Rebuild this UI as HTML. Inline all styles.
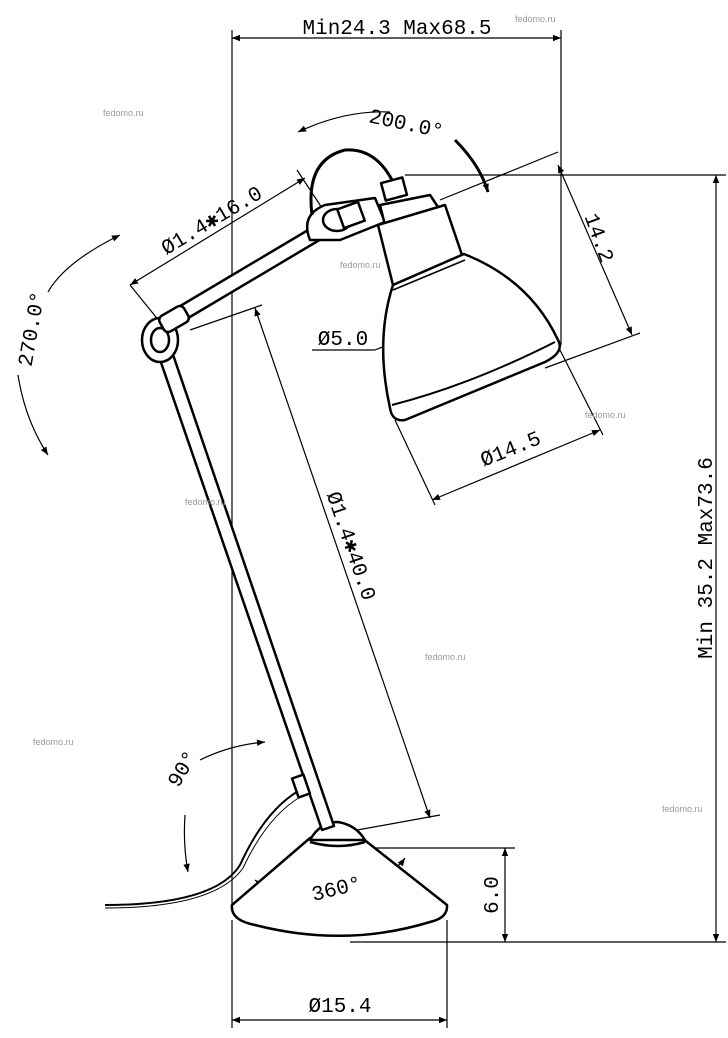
<!DOCTYPE html>
<html><head><meta charset="utf-8"><style>
html,body{margin:0;padding:0;background:#fff}
svg{display:block}
text{font-family:"Liberation Mono",monospace;fill:#000}
.w{font-family:"Liberation Sans",sans-serif;font-size:9px;fill:#999}
</style></head><body>
<svg width="728" height="1038" viewBox="0 0 728 1038" xmlns="http://www.w3.org/2000/svg">
<defs>
<marker id="a" viewBox="0 0 10 10" refX="10" refY="5" markerWidth="12" markerHeight="8" orient="auto-start-reverse" markerUnits="userSpaceOnUse"><path d="M0,1 L10,5 L0,9 z" fill="#000"/></marker>
</defs>
<g stroke="#000" stroke-width="1.2" fill="none">
<!-- top dim -->
<line x1="232" y1="30" x2="232" y2="905"/>
<line x1="561" y1="30" x2="561" y2="345"/>
<line x1="232" y1="38" x2="561" y2="38" marker-start="url(#a)" marker-end="url(#a)"/>
<!-- right dim -->
<line x1="405" y1="175" x2="726" y2="175"/>
<line x1="350" y1="942" x2="726" y2="942"/>
<line x1="716" y1="175" x2="716" y2="942" marker-start="url(#a)" marker-end="url(#a)"/>
<!-- 6.0 -->
<line x1="355" y1="848" x2="515" y2="848"/>
<line x1="505" y1="848" x2="505" y2="942" marker-start="url(#a)" marker-end="url(#a)"/>
<!-- bottom -->
<line x1="232" y1="920" x2="232" y2="1028"/>
<line x1="447" y1="920" x2="447" y2="1028"/>
<line x1="232" y1="1020" x2="447" y2="1020" marker-start="url(#a)" marker-end="url(#a)"/>
<!-- upper arm dim -->
<line x1="130" y1="285" x2="305" y2="178" marker-start="url(#a)" marker-end="url(#a)"/>
<line x1="130" y1="285" x2="160" y2="322"/>
<line x1="297" y1="170" x2="322" y2="208"/>
<!-- long arm dim -->
<line x1="255" y1="308" x2="430" y2="818" marker-start="url(#a)" marker-end="url(#a)"/>
<line x1="190" y1="330" x2="262" y2="305"/>
<line x1="330" y1="835" x2="440" y2="815"/>
<!-- 14.2 -->
<line x1="440" y1="200" x2="558" y2="152"/>
<line x1="558" y1="165" x2="632" y2="335" marker-start="url(#a)" marker-end="url(#a)"/>
<line x1="545" y1="368" x2="640" y2="333"/>
<!-- 5.0 -->
<line x1="312" y1="350" x2="375" y2="350"/>
<line x1="375" y1="350" x2="485" y2="306"/>
<line x1="418" y1="337" x2="485" y2="306" marker-start="url(#a)" marker-end="url(#a)"/>
<line x1="398" y1="286" x2="420" y2="337"/>
<line x1="462" y1="260" x2="485" y2="308"/>
<!-- 14.5 -->
<line x1="432" y1="500" x2="600" y2="430" marker-start="url(#a)" marker-end="url(#a)"/>
<line x1="395" y1="420" x2="435" y2="505"/>
<line x1="560" y1="350" x2="603" y2="435"/>
<!-- angle arcs -->
<path d="M298,132 Q345,110 390,112" marker-start="url(#a)"/>
<path d="M455,140 Q480,165 488,192" marker-end="url(#a)" stroke-width="3"/>
<path d="M120,235 Q65,262 48,292" marker-start="url(#a)"/>
<path d="M18,375 Q25,420 48,455" marker-end="url(#a)"/>
<path d="M200,760 Q230,745 265,742" marker-end="url(#a)"/>
<path d="M185,815 Q183,845 188,872" marker-end="url(#a)"/>
<path d="M255,880 Q275,895 300,898" marker-start="url(#a)"/>
<path d="M370,885 Q395,872 405,858" marker-end="url(#a)"/>
</g>
<!-- lamp -->
<g stroke="#000" stroke-width="2.5" fill="#fff" stroke-linejoin="round">
<!-- base -->
<path d="M232,905 L310,838 L362,838 L447,905 Q448,918 430,922 Q345,948 255,925 Q230,920 232,905 z"/>
<path d="M310,840 Q320,822 338,822 Q356,825 365,840 Z"/>
<path d="M310,842 Q338,850 365,842" fill="none"/>
<!-- cord -->
<path d="M300,790 Q265,810 240,865 Q215,905 105,905" fill="none" stroke-width="2"/>
<path d="M105,908 Q215,908 243,868 Q268,815 302,796" fill="none" stroke-width="1"/>
<!-- long arm -->
<path d="M155,345 L322,830 L334,826 L168,340 z"/>
<rect x="295" y="776" width="12" height="20" transform="rotate(-19 301 786)"/>
<!-- upper arm -->
<path d="M160,318 L325,220 L333,232 L168,330 z"/>
<!-- joints -->
<ellipse cx="160" cy="340" rx="18" ry="22"/>
<ellipse cx="160" cy="340" rx="9" ry="12"/>
<rect x="160" y="310" width="28" height="18" rx="5" transform="rotate(-30 174 319)"/>
<path d="M310,240 Q300,215 325,205 L375,198 L385,222 L340,240 z"/>
<ellipse cx="337" cy="220" rx="14" ry="11"/>
<rect x="340" y="205" width="22" height="20" transform="rotate(-20 351 215)"/>
<!-- loop -->
<path d="M312,215 Q305,160 345,150 Q375,148 392,180" fill="none" stroke-width="3"/>
<!-- socket -->
<rect x="383" y="180" width="22" height="18" transform="rotate(-15 394 189)"/>
<path d="M380,205 L430,195 L440,210 L385,225 z"/>
<path d="M378,225 L445,205 L462,255 L393,285 z"/>
<!-- shade -->
<path d="M393,285 L464,254 Q530,280 558,340 Q565,352 545,362 L405,420 Q392,422 390,408 Q375,340 393,285 z"/>
<path d="M393,290 L465,260" fill="none" stroke-width="1.5"/>
<path d="M392,405 Q470,385 555,342" fill="none" stroke-width="2"/>
</g>
<!-- texts -->
<text x="397" y="34" font-size="21" text-anchor="middle">Min24.3 Max68.5</text>
<text transform="translate(712,558) rotate(-90)" font-size="21" text-anchor="middle">Min 35.2 Max73.6</text>
<text transform="translate(498,895) rotate(-90)" font-size="21" text-anchor="middle">6.0</text>
<text x="340" y="1012" font-size="21" text-anchor="middle">Ø15.4</text>
<text transform="translate(215,226) rotate(-31)" font-size="21" text-anchor="middle">Ø1.4✱16.0</text>
<text transform="translate(405,130) rotate(12)" font-size="21" text-anchor="middle">200.0°</text>
<text transform="translate(38,330) rotate(-80)" font-size="21" text-anchor="middle">270.0°</text>
<text transform="translate(593,240) rotate(70)" font-size="21" text-anchor="middle">14.2</text>
<text x="343" y="345" font-size="21" text-anchor="middle">Ø5.0</text>
<text transform="translate(513,455) rotate(-22)" font-size="21" text-anchor="middle">Ø14.5</text>
<text transform="translate(345,548) rotate(71)" font-size="21" text-anchor="middle">Ø1.4✱40.0</text>
<text transform="translate(188,772) rotate(-60)" font-size="21" text-anchor="middle">90°</text>
<text transform="translate(338,895) rotate(-14)" font-size="21" text-anchor="middle">360°</text>
<text class="w" x="103" y="116">fedomo.ru</text>
<text class="w" x="515" y="22">fedomo.ru</text>
<text class="w" x="340" y="268">fedomo.ru</text>
<text class="w" x="585" y="418">fedomo.ru</text>
<text class="w" x="185" y="505">fedomo.ru</text>
<text class="w" x="425" y="660">fedomo.ru</text>
<text class="w" x="33" y="745">fedomo.ru</text>
<text class="w" x="662" y="812">fedomo.ru</text>
</svg>
</body></html>
